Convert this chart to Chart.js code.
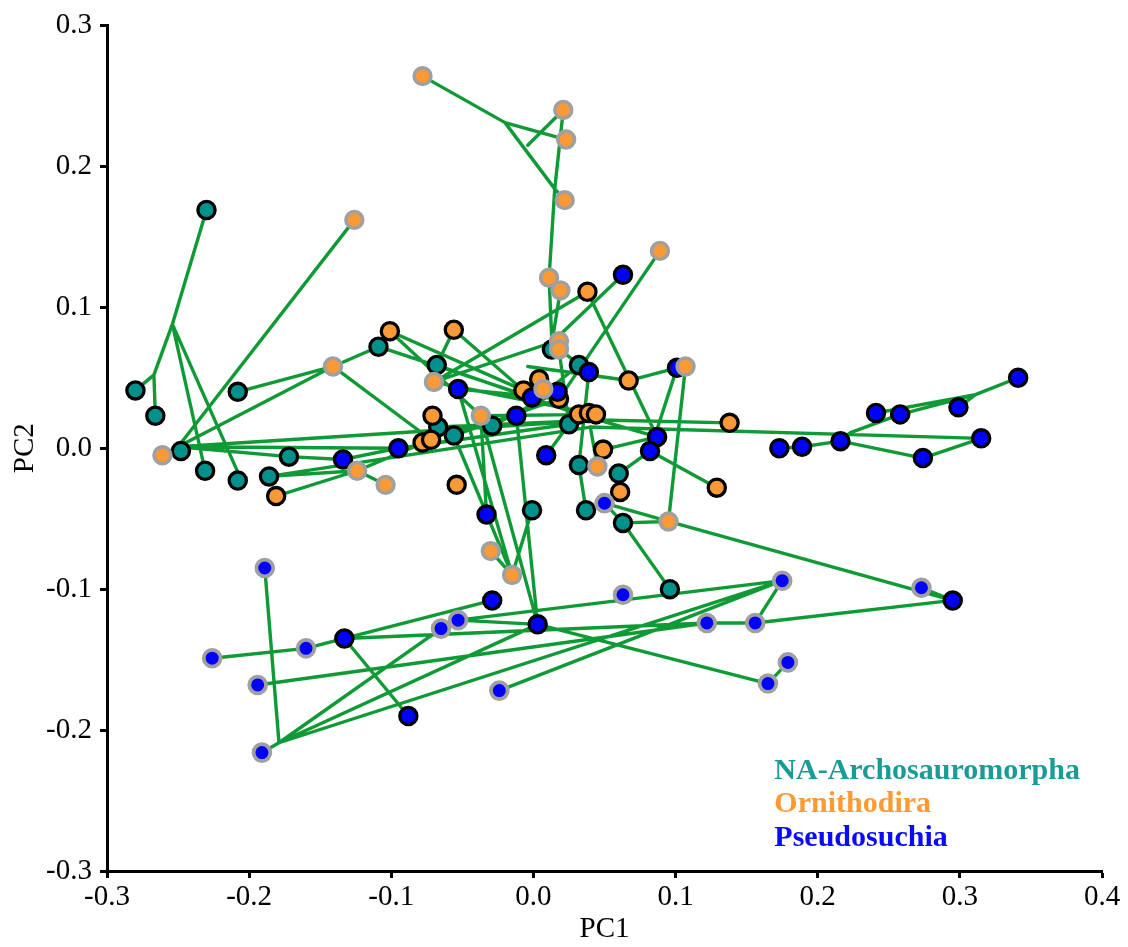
<!DOCTYPE html>
<html><head><meta charset="utf-8">
<script src="https://cdn.jsdelivr.net/npm/chart.js@4.4.1/dist/chart.umd.min.js"></script>
<style>html,body{margin:0;padding:0;background:#fff;}#wrap{width:1128px;height:947px;position:relative;}</style>
</head><body><div id="wrap"><canvas id="c" width="1128" height="947"></canvas></div>
<script>
// ---- axes ----
const xTickValues = [-0.3, -0.2, -0.1, 0.0, 0.1, 0.2, 0.3, 0.4];
const xTickLabels = ['-0.3', '-0.2', '-0.1', '0.0', '0.1', '0.2', '0.3', '0.4'];
const yTickValues = [-0.3, -0.2, -0.1, 0.0, 0.1, 0.2, 0.3];
const yTickLabels = ['-0.3', '-0.2', '-0.1', '0.0', '0.1', '0.2', '0.3'];
const xTitle = 'PC1';
const yTitle = 'PC2';
const groupNames = ['NA-Archosauromorpha', 'Ornithodira', 'Pseudosuchia'];

// ---- tips (PC1, PC2) ----
const naArchosauromorpha = [[-0.230,0.169],[-0.280,0.041],[-0.266,0.023],[-0.208,0.040],[-0.248,-0.002],[-0.231,-0.016],[-0.208,-0.023],[-0.186,-0.020],[-0.172,-0.006],[-0.109,0.072],[-0.068,0.059],[-0.067,0.015],[-0.056,0.009],[-0.029,0.016],[0.032,0.059],[0.025,0.017],[0.032,-0.012],[0.060,-0.018],[0.037,-0.044],[-0.001,-0.044],[0.063,-0.053],[0.096,-0.100],[0.013,0.070]];
const ornithodiraA = [[-0.101,0.083],[-0.056,0.084],[0.038,0.111],[0.067,0.048],[-0.007,0.041],[0.004,0.049],[0.018,0.035],[-0.071,0.023],[-0.078,0.004],[-0.072,0.006],[-0.054,-0.026],[0.032,0.024],[0.039,0.025],[0.044,0.024],[0.049,-0.001],[0.061,-0.031],[0.138,0.018],[0.129,-0.028],[-0.181,-0.034]];
const ornithodiraB = [[-0.078,0.264],[0.021,0.240],[0.023,0.219],[0.022,0.176],[-0.126,0.162],[0.089,0.140],[0.011,0.121],[0.019,0.112],[0.018,0.076],[0.018,0.070],[-0.141,0.058],[-0.070,0.047],[0.007,0.042],[-0.037,0.023],[0.107,0.058],[-0.261,-0.005],[-0.124,-0.016],[-0.104,-0.026],[0.045,-0.013],[0.095,-0.052],[-0.030,-0.073],[-0.015,-0.090]];
const pseudosuchiaA = [[0.063,0.123],[-0.053,0.042],[0.039,0.054],[0.101,0.057],[-0.001,0.036],[0.017,0.040],[-0.012,0.023],[-0.095,0.000],[-0.134,-0.008],[0.009,-0.005],[-0.033,-0.047],[0.087,0.008],[0.082,-0.002],[0.173,0.000],[0.189,0.001],[0.216,0.005],[0.241,0.025],[0.258,0.024],[0.299,0.029],[0.341,0.050],[0.315,0.007],[0.274,-0.007],[-0.029,-0.108],[0.003,-0.125],[-0.133,-0.135],[-0.088,-0.190],[0.295,-0.108]];
const pseudosuchiaB = [[-0.189,-0.085],[-0.226,-0.149],[-0.160,-0.142],[-0.194,-0.168],[-0.191,-0.216],[-0.065,-0.128],[-0.053,-0.122],[-0.024,-0.172],[0.050,-0.039],[0.063,-0.104],[0.175,-0.094],[0.122,-0.124],[0.156,-0.124],[0.273,-0.099],[0.179,-0.152],[0.165,-0.167]];

// ---- tree branches [x1, y1, x2, y2] ----
const branches = [
[-0.078,0.264,-0.020,0.231],[-0.020,0.231,0.023,0.219],[-0.020,0.231,0.015,0.184],[-0.004,0.215,0.021,0.240],
[0.015,0.184,0.021,0.240],[0.015,0.184,0.022,0.176],[0.015,0.184,0.011,0.121],[0.011,0.121,0.013,0.075],[0.019,0.112,0.013,0.075],
[-0.230,0.169,-0.254,0.088],[-0.254,0.088,-0.267,0.052],[-0.267,0.052,-0.280,0.041],[-0.267,0.052,-0.266,0.023],
[-0.254,0.088,-0.231,-0.016],[-0.254,0.088,-0.208,-0.017],[-0.126,0.162,-0.250,0.001],[-0.250,0.001,-0.261,-0.005],
[-0.208,0.040,-0.141,0.058],[-0.141,0.058,-0.109,0.072],[-0.141,0.058,-0.250,0.001],[-0.141,0.058,-0.072,0.006],
[-0.109,0.072,-0.101,0.083],[-0.250,0.001,-0.172,-0.006],[-0.250,0.001,-0.095,0.000],[-0.250,0.001,0.047,0.020],
[-0.172,-0.006,-0.134,-0.008],[-0.134,-0.008,-0.095,0.000],[-0.186,-0.020,-0.124,-0.016],[-0.186,-0.020,0.040,0.015],
[-0.181,-0.034,-0.124,-0.016],[-0.124,-0.016,-0.072,0.006],[-0.104,-0.026,-0.124,-0.016],
[-0.101,0.083,-0.007,0.041],[-0.056,0.084,-0.068,0.059],[-0.056,0.084,-0.007,0.041],[-0.068,0.059,0.032,0.024],
[-0.109,0.072,-0.001,0.036],[-0.070,0.047,0.013,0.075],[-0.070,0.047,0.039,0.025],[-0.072,0.006,-0.067,0.015],
[-0.067,0.015,0.047,0.020],[-0.053,0.042,-0.015,-0.090],[-0.037,0.023,0.003,-0.125],[-0.012,0.023,0.003,-0.125],
[-0.030,-0.073,-0.015,-0.090],[-0.015,-0.090,-0.056,0.009],[-0.015,-0.090,-0.001,-0.044],
[0.050,-0.039,0.063,-0.053],[0.063,-0.053,0.095,-0.052],[0.095,-0.052,0.295,-0.108],[0.095,-0.052,0.107,0.058],
[0.096,-0.100,0.063,-0.053],[0.047,0.020,0.138,0.018],[0.040,0.015,0.315,0.007],[0.082,-0.002,0.129,-0.028],
[0.101,0.057,0.082,-0.002],[0.101,0.057,0.067,0.048],[0.067,0.048,-0.004,0.058],[0.089,0.140,0.018,0.035],
[0.063,0.123,0.013,0.075],[0.038,0.111,-0.070,0.047],[0.038,0.111,0.087,0.008],
[0.315,0.007,0.274,-0.007],[0.274,-0.007,0.216,0.005],[0.216,0.005,0.189,0.001],[0.189,0.001,0.173,0.000],
[0.216,0.005,0.223,0.011],[0.223,0.011,0.258,0.024],[0.258,0.024,0.311,0.038],[0.241,0.025,0.311,0.038],
[0.311,0.038,0.341,0.050],[0.311,0.038,0.299,0.029],
[0.273,-0.099,0.295,-0.108],[0.156,-0.124,0.295,-0.108],[0.156,-0.124,0.175,-0.094],[-0.133,-0.135,0.122,-0.124],
[0.122,-0.124,0.156,-0.124],[-0.053,-0.122,0.175,-0.094],[0.003,-0.125,0.165,-0.167],[0.165,-0.167,0.179,-0.152],
[-0.179,-0.209,0.175,-0.094],[-0.024,-0.172,0.175,-0.094],[-0.194,-0.168,0.122,-0.124],[-0.189,-0.085,-0.179,-0.209],
[-0.179,-0.209,-0.191,-0.216],[-0.179,-0.209,-0.065,-0.128],[-0.179,-0.209,0.003,-0.125],
[-0.226,-0.149,-0.160,-0.142],[-0.160,-0.142,-0.133,-0.135],[-0.133,-0.135,-0.088,-0.190],[-0.133,-0.135,-0.029,-0.108],
[-0.053,-0.122,0.003,-0.125],[-0.065,-0.128,-0.053,-0.122],[0.013,0.075,0.032,0.059],[-0.033,-0.047,-0.037,0.023],
[0.032,-0.012,0.037,-0.044],[0.095,-0.052,0.050,-0.039],[0.060,-0.018,0.082,-0.002],[0.045,-0.013,0.040,0.015],
[-0.053,0.042,0.018,0.035],[-0.037,0.023,0.044,0.024],[-0.029,0.016,0.017,0.040],[-0.095,0.000,0.025,0.017],
[-0.056,0.009,0.018,0.035],[0.009,-0.005,0.025,0.017],[0.049,-0.001,0.087,0.008],[0.018,0.070,0.025,0.017],
[-0.012,0.023,0.032,0.059],[0.032,0.024,0.087,0.008],[-0.101,0.083,-0.037,0.023],[0.039,0.054,0.032,-0.012]
];

// ---- styles ----
const COL_TEAL = '#00918c', COL_ORANGE = '#f99a36', COL_BLUE = '#0000ff';
const COL_LINE = '#0f9a35';
const LEGEND_COLS = ['#1a9c94', '#ff9a33', '#0a0aff'];

function pts(arr){ return arr.map(p => ({x:p[0], y:p[1]})); }
function branchPts(arr){
  const out = [];
  arr.forEach(b => { out.push({x:b[0], y:b[1]}); out.push({x:b[2], y:b[3]}); out.push({x:b[2], y:NaN}); });
  return out;
}
function ptDs(label, arr, fill, border, r, bw, order){
  return {label, data: pts(arr), backgroundColor: fill, borderColor: border,
    pointBackgroundColor: fill, pointBorderColor: border, pointRadius: r, pointBorderWidth: bw,
    pointHoverRadius: r, showLine: false, order};
}

Chart.defaults.font.family = '"Liberation Serif", "Times New Roman", serif';
Chart.defaults.color = '#000';

const legendPlugin = {
  id: 'groupLegend',
  afterDraw(chart){
    const ctx = chart.ctx;
    ctx.save();
    ctx.font = 'bold 30px "Liberation Serif", serif';
    ctx.textAlign = 'left';
    ctx.textBaseline = 'alphabetic';
    const x = chart.scales.x.getPixelForValue(0.1695);
    const baseY = chart.scales.y.getPixelForValue(-0.2345);
    groupNames.forEach((n, i) => { ctx.fillStyle = LEGEND_COLS[i]; ctx.fillText(n, x, baseY + i*33.5); });
    ctx.restore();
  }
};

new Chart(document.getElementById('c'), {
  type: 'scatter',
  data: { datasets: [
    {label:'branches', data: branchPts(branches), showLine: true, borderColor: COL_LINE, borderWidth: 3.4,
     pointRadius: 0, pointHoverRadius: 0, spanGaps: false, tension: 0, borderCapStyle: 'round', borderJoinStyle: 'round', order: 10},
    ptDs('NA-Archosauromorpha', naArchosauromorpha, COL_TEAL, '#000', 8.6, 3.3, 5),
    ptDs('Ornithodira', ornithodiraA, COL_ORANGE, '#000', 8.6, 3.3, 4),
    ptDs('Pseudosuchia', pseudosuchiaA, COL_BLUE, '#000', 8.6, 3.3, 3),
    ptDs('Ornithodira (grey)', ornithodiraB, COL_ORANGE, '#a0a0a0', 8.4, 3.6, 2),
    ptDs('Pseudosuchia (grey)', pseudosuchiaB, COL_BLUE, '#a0a0a0', 8.4, 3.8, 1)
  ]},
  options: {
    responsive: false, animation: false, devicePixelRatio: 1,
    events: [],
    layout: { padding: { top: 21, right: 26, bottom: 0, left: 0 } },
    plugins: { legend: { display: false }, tooltip: { enabled: false } },
    scales: {
      x: {
        type: 'linear', min: -0.3, max: 0.4,
        afterBuildTicks: s => { s.ticks = xTickValues.map(v => ({value: v})); },
        afterFit: s => { s.height = 76; },
        ticks: { callback: (v, i) => xTickLabels[i], font: { size: 29 }, color: '#000', padding: 2, maxRotation: 0 },
        grid: { display: true, drawOnChartArea: false, drawTicks: true, tickLength: 7, tickWidth: 3, tickColor: '#000' },
        border: { display: true, color: '#000', width: 3 },
        title: { display: true, text: xTitle, font: { size: 29 }, color: '#000', padding: { top: 0, bottom: 0 } }
      },
      y: {
        type: 'linear', min: -0.3, max: 0.3,
        afterBuildTicks: s => { s.ticks = yTickValues.map(v => ({value: v})); },
        afterFit: s => { s.width = 107; },
        ticks: { callback: (v, i) => yTickLabels[i], font: { size: 29 }, color: '#000', padding: 8 },
        grid: { display: true, drawOnChartArea: false, drawTicks: true, tickLength: 7, tickWidth: 3, tickColor: '#000' },
        border: { display: true, color: '#000', width: 3 },
        title: { display: true, text: yTitle, font: { size: 29 }, color: '#000', padding: { top: 8, bottom: 0 } }
      }
    }
  },
  plugins: [legendPlugin]
});
</script></body></html>
